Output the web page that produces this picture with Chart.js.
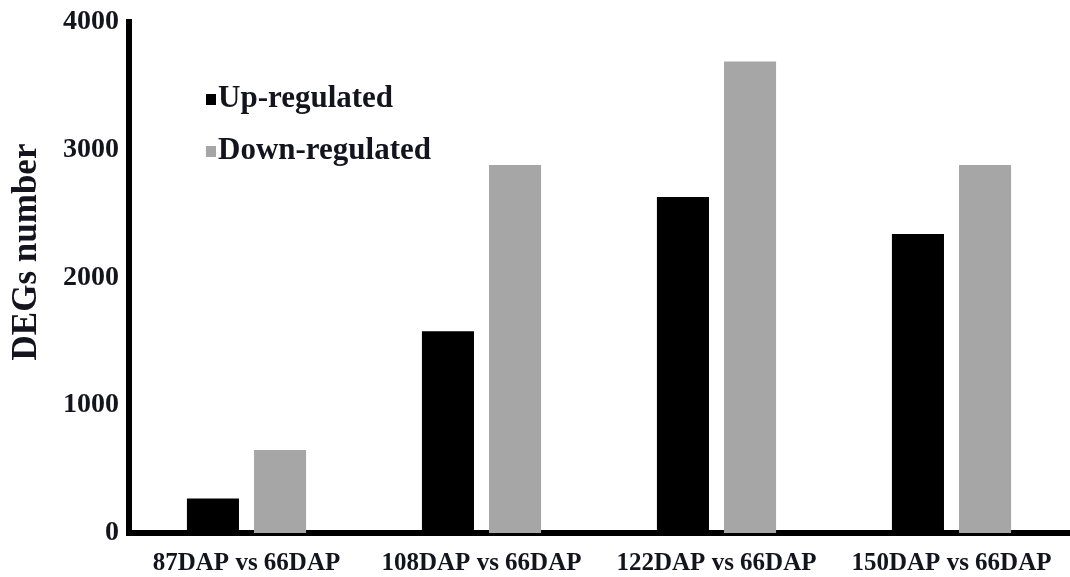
<!DOCTYPE html>
<html>
<head>
  <title>DEGs number</title>
  <script src="https://cdn.jsdelivr.net/npm/chart.js"></script>
  <style>
    body {
      margin: 0;
      background: #fff;
    }

    .wrap {
      position: relative;
      width: 1070px;
      height: 577px;
    }
  </style>
</head>
<body>
  <div class="wrap">
    <canvas id="degChart"></canvas>
  </div>

  <script>
    const categories = ['87DAP vs 66DAP', '108DAP vs 66DAP', '122DAP vs 66DAP', '150DAP vs 66DAP'];
    const upRegulated = [270, 1580, 2630, 2340];
    const downRegulated = [650, 2880, 3690, 2880];
    const yTicks = [0, 1000, 2000, 3000, 4000];
    const yTitle = 'DEGs number';

    const serif = '"Liberation Serif", "Times New Roman", serif';
    const textColor = '#14141f';

    // legend drawn inside the plot, top-left like the original figure
    const innerLegend = {
      id: 'innerLegend',
      afterDraw(chart) {
        const ctx = chart.ctx;
        const area = chart.chartArea;
        ctx.save();
        ctx.font = 'bold 31px ' + serif;
        ctx.textBaseline = 'middle';
        chart.data.datasets.forEach((ds, i) => {
          const x = area.left + 77;
          const y = area.top + 77 + i * 52;
          ctx.fillStyle = ds.backgroundColor;
          ctx.fillRect(x, y - 5, 10, 11);
          ctx.fillStyle = textColor;
          ctx.fillText(ds.label, x + 12, y);
        });
        ctx.restore();
      }
    };

    // y title sits a bit above the axis middle in the original
    const sideTitle = {
      id: 'sideTitle',
      afterDraw(chart) {
        const ctx = chart.ctx;
        ctx.save();
        ctx.translate(27, 252);
        ctx.rotate(-Math.PI / 2);
        ctx.font = 'bold 35px ' + serif;
        ctx.textAlign = 'center';
        ctx.textBaseline = 'middle';
        ctx.fillStyle = textColor;
        ctx.fillText(yTitle, 0, 0);
        ctx.restore();
      }
    };

    const ctx = document.getElementById('degChart').getContext('2d');
    const chart = new Chart(ctx, {
      type: 'bar',
      data: {
        labels: categories,
        datasets: [
          {
            label: 'Up-regulated',
            data: upRegulated,
            backgroundColor: '#000000',
            categoryPercentage: 0.571,
            barPercentage: 0.776
          },
          {
            label: 'Down-regulated',
            data: downRegulated,
            backgroundColor: '#a6a6a6',
            categoryPercentage: 0.571,
            barPercentage: 0.776
          }
        ]
      },
      options: {
        responsive: true,
        maintainAspectRatio: false,
        animation: false,
        layout: {
          padding: { top: 22, right: 1, left: 0, bottom: 0 }
        },
        plugins: {
          legend: { display: false },
          tooltip: { enabled: false }
        },
        scales: {
          x: {
            grid: { display: false },
            border: { color: '#000', width: 6 },
            ticks: {
              color: textColor,
              font: { family: serif, size: 25, weight: 'bold' },
              padding: 8,
              maxRotation: 0
            },
            afterFit: scale => { scale.height = 44; }
          },
          y: {
            min: 0,
            max: 4000,
            afterBuildTicks: scale => {
              scale.ticks = yTicks.map(v => ({ value: v }));
            },
            grid: { display: false },
            border: { color: '#000', width: 6 },
            ticks: {
              color: textColor,
              font: { family: serif, size: 28, weight: 'bold' },
              padding: 2,
              callback: v => String(v)
            },
            afterFit: scale => { scale.width = 129; }
          }
        }
      },
      plugins: [innerLegend, sideTitle]
    });
  </script>
</body>
</html>
